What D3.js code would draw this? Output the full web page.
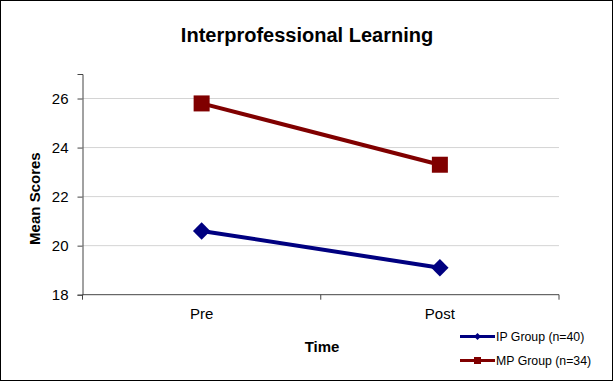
<!DOCTYPE html>
<html><head><meta charset="utf-8">
<script src="https://cdn.jsdelivr.net/npm/d3@7"></script>
<style>body{margin:0;background:#fff}svg{display:block}</style>
</head><body>
<svg id="c" width="614" height="382"></svg>
<script>
const title = "Interprofessional Learning";
const categories = ["Pre", "Post"];
const ipValues = [20.6, 19.1];
const mpValues = [25.8, 23.3];
const yTicks = [18, 20, 22, 24, 26];
const seriesNames = ["IP Group (n=40)", "MP Group (n=34)"];
const xTitle = "Time";
const yTitle = "Mean Scores";

const FONT = "Arial, 'Liberation Sans', sans-serif";
const svg = d3.select("#c");
const W = 614, H = 382;
const m = {l: 82.5, r: 559, t: 74, b: 294.7};
svg.append("rect").attr("x", 0.5).attr("y", 0.5).attr("width", W - 2).attr("height", H - 2)
  .attr("fill", "#fff").attr("stroke", "#000").attr("stroke-width", 1);

const x = d3.scaleBand().domain(categories).range([m.l, m.r]);
const y = d3.scaleLinear().domain([18, 27]).range([m.b, m.t]);

// gridlines
svg.append("g").selectAll("line").data(yTicks.filter(d => d > 18)).join("line")
  .attr("x1", m.l).attr("x2", m.r).attr("y1", d => y(d)).attr("y2", d => y(d))
  .attr("stroke", "#d4d4d4").attr("stroke-width", 1);

// y axis
const ya = svg.append("g").attr("transform", `translate(${m.l},0)`)
  .call(d3.axisLeft(y).tickValues(yTicks).tickSize(5).tickPadding(9));
ya.select(".domain").attr("stroke", "#444");
ya.selectAll(".tick line").attr("stroke", "#444");
ya.selectAll("text").attr("font-family", FONT).attr("font-size", 15).attr("fill", "#000");

// x axis
const xa = svg.append("g").attr("transform", `translate(0,${m.b})`);
xa.append("line").attr("x1", m.l).attr("x2", m.r).attr("stroke", "#444");
const bounds = [m.l, ...categories.map(c => x(c) + x.bandwidth())];
xa.selectAll(".bt").data(bounds).join("line").attr("class", "bt")
  .attr("x1", d => d).attr("x2", d => d).attr("y1", 0).attr("y2", 5).attr("stroke", "#444");
xa.selectAll("text").data(categories).join("text")
  .attr("x", d => x(d) + x.bandwidth() / 2).attr("y", 24)
  .attr("text-anchor", "middle").attr("font-family", FONT)
  .attr("font-size", 15).text(d => d);

// titles
svg.append("text").attr("x", 307).attr("y", 42).attr("text-anchor", "middle")
  .attr("font-family", FONT).attr("font-weight", "bold")
  .attr("font-size", 20).text(title);
svg.append("text").attr("x", 322).attr("y", 352).attr("text-anchor", "middle")
  .attr("font-family", FONT).attr("font-weight", "bold")
  .attr("font-size", 15).text(xTitle);
svg.append("text").attr("transform", `translate(40,${(y(18) + y(26)) / 2 + 2}) rotate(-90)`)
  .attr("text-anchor", "middle")
  .attr("font-family", FONT).attr("font-weight", "bold")
  .attr("font-size", 15).text(yTitle);

const cx = d => x(d) + x.bandwidth() / 2;
const series = [
  {name: seriesNames[0], values: ipValues, color: "#000080", shape: "diamond"},
  {name: seriesNames[1], values: mpValues, color: "#800000", shape: "square"}
];
const line = d3.line().x(d => cx(d.c)).y(d => y(d.v));
function marker(g, shape, color, s) {
  if (shape === "square") {
    g.append("rect").attr("x", -s / 2).attr("y", -s / 2).attr("width", s).attr("height", s).attr("fill", color);
  } else {
    const h = s * 0.58;
    g.append("path").attr("d", `M0,${-h}L${h},0L0,${h}L${-h},0Z`).attr("fill", color);
  }
}
series.forEach(s => {
  const pts = categories.map((c, i) => ({c, v: s.values[i]}));
  svg.append("path").datum(pts).attr("d", line).attr("fill", "none")
    .attr("stroke", s.color).attr("stroke-width", 4);
  pts.forEach(p => {
    const g = svg.append("g").attr("transform", `translate(${cx(p.c)},${y(p.v)})`);
    marker(g, s.shape, s.color, s.shape === "square" ? 16 : 15);
  });
});

// legend
series.forEach((s, i) => {
  const ly = 336.5 + i * 24;
  const g = svg.append("g");
  g.append("line").attr("x1", 460).attr("x2", 495).attr("y1", ly).attr("y2", ly)
    .attr("stroke", s.color).attr("stroke-width", 3);
  const mg = g.append("g").attr("transform", `translate(477.5,${ly})`);
  marker(mg, s.shape, s.color, s.shape === "square" ? 7 : 6);
  g.append("text").attr("x", 496).attr("y", ly + 4.5)
    .attr("font-family", FONT).attr("font-size", 12.3)
    .text(s.name);
});
</script>
</body></html>
